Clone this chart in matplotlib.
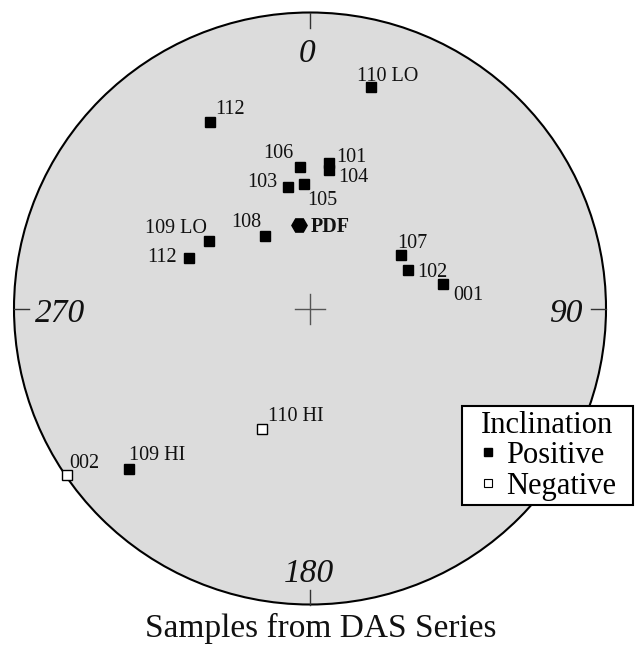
import numpy as np
import matplotlib
matplotlib.use("Agg")
import matplotlib.pyplot as plt
from matplotlib.patches import Circle
from matplotlib.lines import Line2D

plt.rcParams['font.family'] = ['Liberation Serif', 'DejaVu Serif']

# sample directions (declination, inclination in degrees)
labels = ["110 LO", "112", "106", "101", "104", "103", "105", "108",
          "109 LO", "112", "107", "102", "001", "110 HI", "109 HI", "002"]
dec = [15.3, 331.7, 355.9, 7.5, 7.9, 349.8, 357.1, 328.0,
       303.6, 292.5, 59.5, 68.5, 79.7, 201.8, 228.4, 235.6]
inc = [23.3, 29.2, 50.4, 48.9, 51.0, 55.8, 55.3, 66.4,
       56.3, 53.6, 60.8, 60.8, 52.2, -54.0, 19.5, -0.8]

pdf_dec = 352.3
pdf_inc = 66.8

# label placement: (dx, dy) in pixels, horizontal alignment
lab_off = [(-14, 6, 'left'), (6, 8, 'left'), (-6, 9, 'right'), (7, 1, 'left'),
           (9, -12, 'left'), (-11, 0, 'right'), (4, -21, 'left'), (-3, 9, 'right'),
           (-2, 8, 'right'), (-12, -4, 'right'), (-4, 7, 'left'), (9, -7, 'left'),
           (10, -16, 'left'), (6, 8, 'left'), (0, 9, 'left'), (2, 7, 'left')]


def equal_area(d, i):
    d = np.radians(np.asarray(d, dtype=float))
    i = np.abs(np.asarray(i, dtype=float))
    r = np.sqrt(2) * np.sin(np.radians(90 - i) / 2)
    return r * np.sin(d), r * np.cos(d)


W, H = 635, 648
cx, cy, R = 310, 308.5, 296

fig = plt.figure(figsize=(W / 100, H / 100), dpi=100)
ax = fig.add_axes([0, 0, 1, 1])
ax.set_xlim(-cx / R, (W - cx) / R)
ax.set_ylim(-(H - cy) / R, cy / R)
ax.set_aspect('equal')
ax.axis('off')

ax.add_patch(Circle((0, 0), 1, facecolor='#dcdcdc', edgecolor='black', lw=1.5, zorder=0))

# cardinal ticks and centre cross
t = 15 / R
for a in [0, 90, 180, 270]:
    s, c = np.sin(np.radians(a)), np.cos(np.radians(a))
    ax.plot([s, s * (1 - t)], [c, c * (1 - t)], color='#333333', lw=1)
ax.plot([-t, t], [0, 0], color='#555555', lw=1)
ax.plot([0, 0], [-t, t], color='#555555', lw=1)

card = dict(fontsize=24, style='italic', va='baseline', color='#111111')
ax.text(-3 / R, 246.5 / R, "0", ha='center', **card)
ax.text(273 / R, -13.5 / R, "90", ha='right', **card)
ax.text(-1.5 / R, -273.5 / R, "180", ha='center', **card)
ax.text(-275 / R, -13 / R, "270", ha='left', **card)

x, y = equal_area(dec, inc)
pos = np.array(inc) >= 0
ax.plot(x[pos], y[pos], 's', ms=7.2, mfc='black', mec='black', ls='none')
ax.plot(x[~pos], y[~pos], 's', ms=7.2, mfc='white', mec='black', mew=1, ls='none')

for k, lab in enumerate(labels):
    dx, dy, ha = lab_off[k]
    ax.annotate(lab, (x[k], y[k]), xytext=(dx, dy), textcoords='offset pixels',
                ha=ha, va='baseline', fontsize=14.5, color='#111111')

px, py = equal_area(pdf_dec, pdf_inc)
ax.plot(px, py, 'H', ms=11, color='black')
ax.annotate("PDF", (px, py), xytext=(12, -7), textcoords='offset pixels',
            ha='left', va='baseline', fontsize=14.5, fontweight='bold', color='#111111')

handles = [Line2D([], [], marker='s', ls='none', ms=5.5, mfc='black', mec='black'),
           Line2D([], [], marker='s', ls='none', ms=5.5, mfc='white', mec='black', mew=0.8)]
leg = ax.legend(handles, ["Positive", "Negative"], title="Inclination",
                loc='upper left', bbox_to_anchor=(462 / W, 1 - 406 / H, 171 / W, 0),
                bbox_transform=fig.transFigure, mode='expand', fontsize=22, title_fontsize=22,
                frameon=True, fancybox=False, framealpha=1, edgecolor='black',
                handlelength=1.4, handletextpad=-0.1, borderpad=0.15,
                labelspacing=0.05, borderaxespad=0)
leg.get_frame().set_linewidth(1.5)

fig.text(321 / W, 1 - 637 / H, "Samples from DAS Series", ha='center',
         va='baseline', fontsize=24, color='#111111')

fig.savefig("out.png", dpi=100)
